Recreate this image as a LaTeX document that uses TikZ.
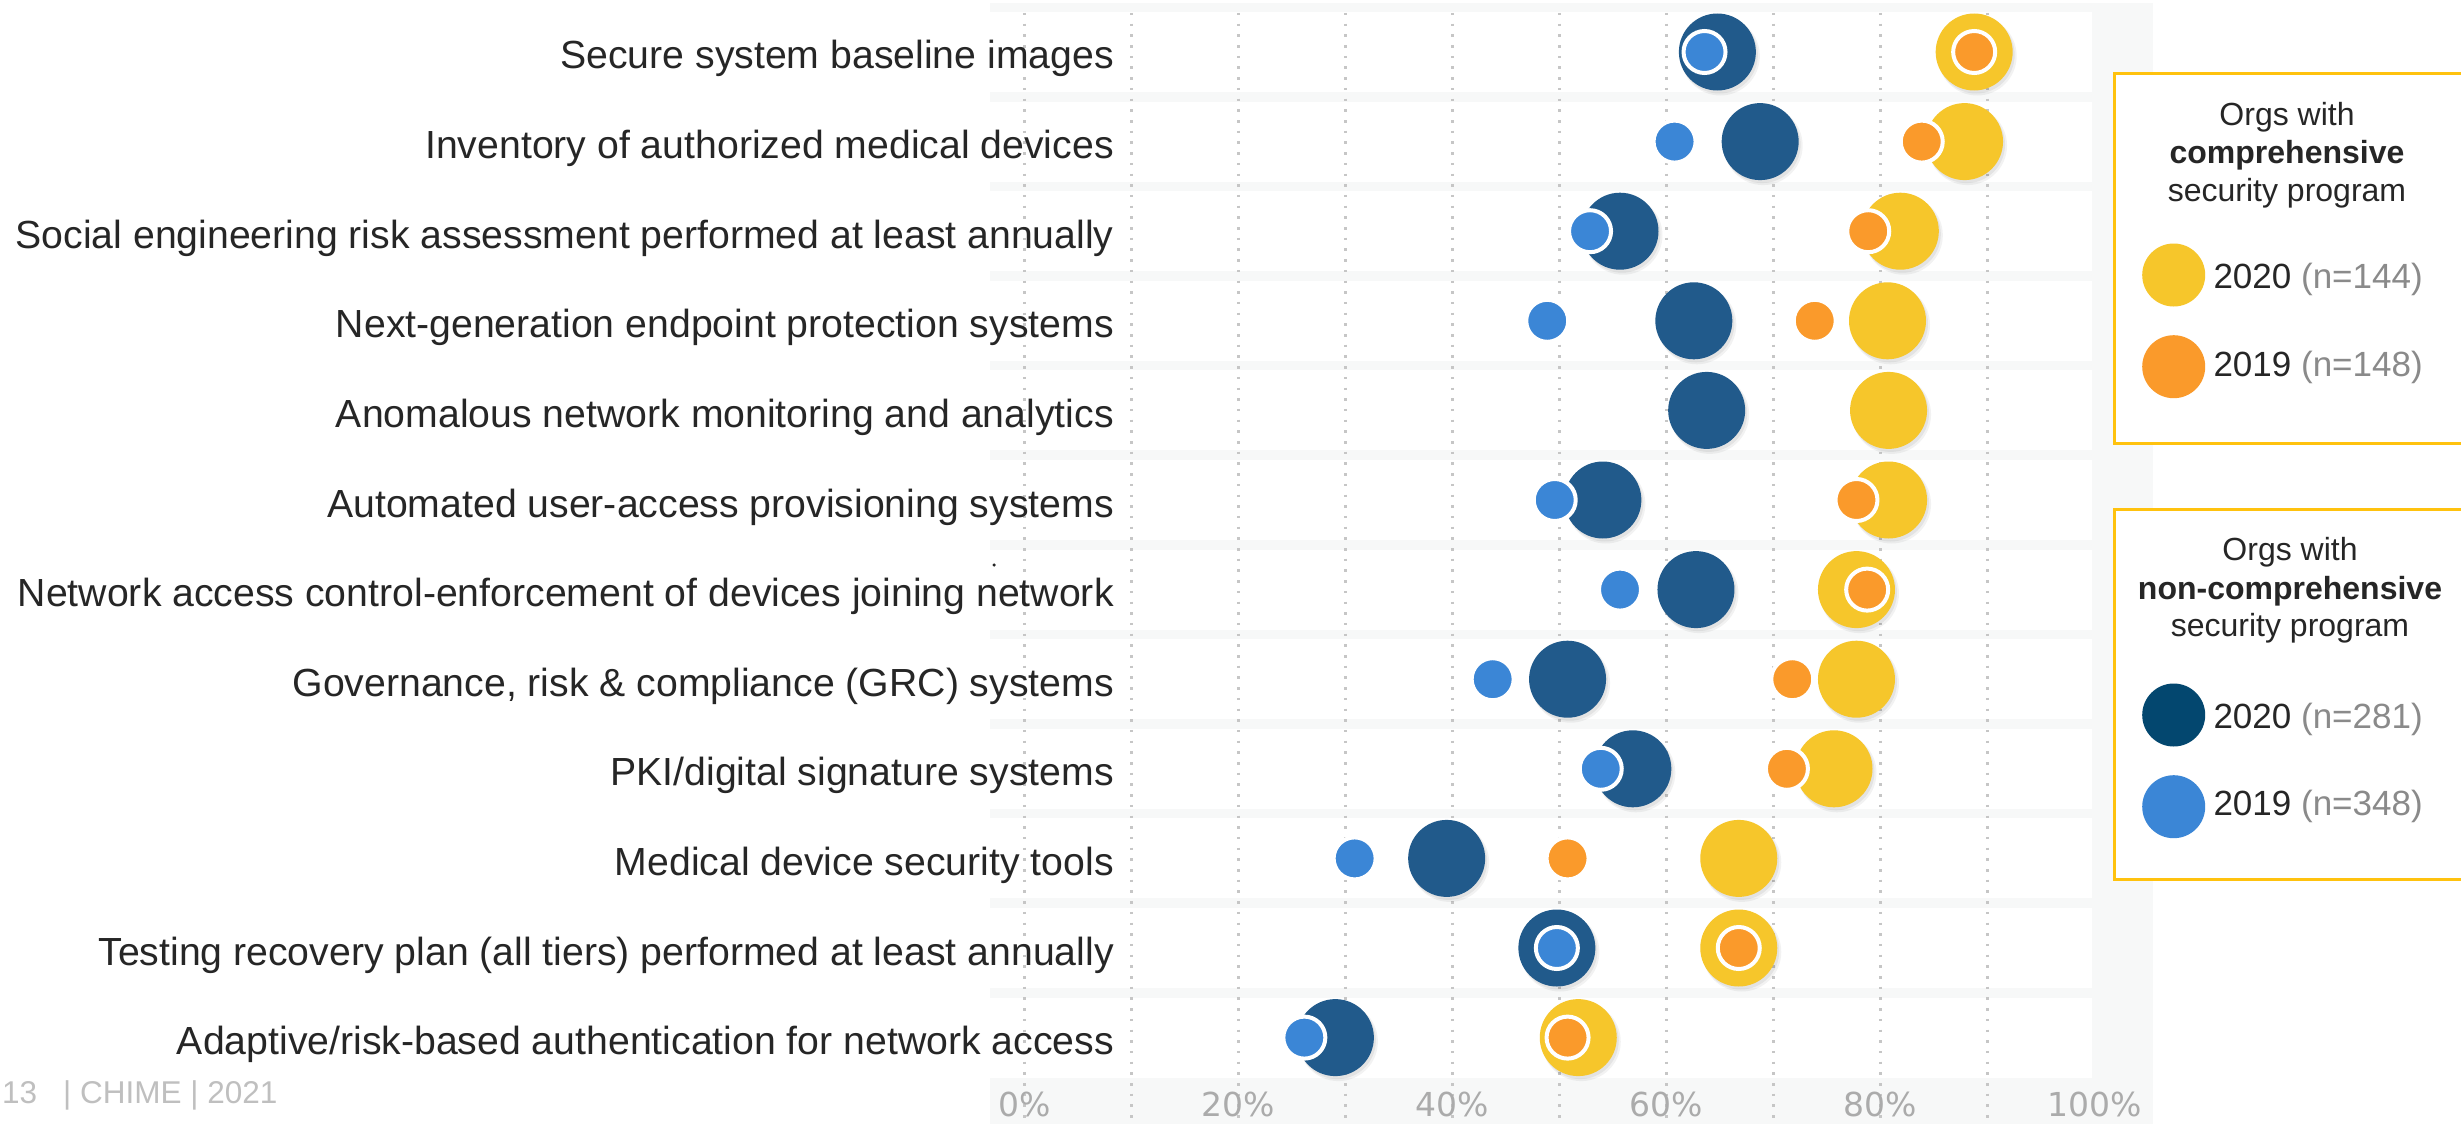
\documentclass[tikz,border=0pt]{standalone}
\usepackage{fontspec}
\setmainfont{Liberation Sans}
\newfontfamily\axisfont{DejaVu Sans}
\definecolor{darkb}{HTML}{215A8B}
\definecolor{legdark}{HTML}{03476F}
\definecolor{lightb}{HTML}{3B86D6}
\definecolor{yell}{HTML}{F6C62B}
\definecolor{orng}{HTML}{FA9A2B}
\definecolor{txt}{HTML}{262626}
\definecolor{ngray}{HTML}{8A8A8A}
\definecolor{plotbg}{HTML}{F7F8F8}
\definecolor{gridc}{HTML}{C6C6C6}
\definecolor{axisc}{HTML}{ABABAB}
\definecolor{footc}{HTML}{BFBFBF}
\definecolor{goldb}{HTML}{FFC20E}
\tikzset{
  bigdot/.style={circle, inner sep=0pt, minimum size=77pt},
  smalldot/.style={circle, inner sep=0pt, minimum size=42pt, draw=white, line width=4pt},
  shadowA/.style={fill=black, opacity=0.05},
  shadowB/.style={fill=black, opacity=0.06},
  legdot/.style={circle, inner sep=0pt, minimum size=63pt},
  rowlabel/.style={anchor=base east, inner sep=0pt, text=txt, font=\fontsize{39.2}{47}\selectfont},
  axislabel/.style={anchor=base, inner sep=0pt, text=axisc, font=\axisfont\fontsize{33}{40}\selectfont},
  legtitle/.style={anchor=base, inner sep=0pt, text=txt, font=\fontsize{32}{38}\selectfont},
  legentry/.style={anchor=base west, inner sep=0pt, text=txt, font=\fontsize{35}{42}\selectfont},
  footer/.style={inner sep=0pt, text=footc, font=\fontsize{31.5}{38}\selectfont},
  gridline/.style={draw=gridc, line width=2.5pt, dash pattern=on 2.5pt off 8.2pt},
  legbox/.style={draw=goldb, line width=3pt, fill=white}
}
\begin{document}
\begin{tikzpicture}[x=1pt,y=-1pt]
\useasboundingbox (0,0) rectangle (2461,1124);
\fill[white] (0,0) rectangle (2461,1124);
% plot background and row bands
\fill[plotbg] (990,3) rectangle (2153,1124);
\foreach \i in {0,...,11} {
  \fill[white] (990,{52+89.6*\i-40}) rectangle (2092,{52+89.6*\i+40});
}
% grid lines
\foreach \k in {0,...,9} {
  \draw[gridline] ({1024.5+107*\k},13) -- ({1024.5+107*\k},1124);
}
% axis labels
\foreach \k/\t in {0/0,2/20,4/40,6/60,8/80,10/100} {
  \node[axislabel] (ax\k) at ({1024.5+107*\k},1116.7) {\t\%};
}
% row labels
\foreach \i/\t in {
  0/{Secure system baseline images},
  1/{Inventory of authorized medical devices},
  2/{Social engineering risk assessment performed at least annually},
  3/{Next-generation endpoint protection systems},
  4/{Anomalous network monitoring and analytics},
  5/{Automated user-access provisioning systems},
  6/{Network access control-enforcement of devices joining network},
  7/{Governance, risk \& compliance (GRC) systems},
  8/{PKI/digital signature systems},
  9/{Medical device security tools},
  10/{Testing recovery plan (all tiers) performed at least annually},
  11/{Adaptive/risk-based authentication for network access}} {
  \node[rowlabel] (lab\i) at (1114,{52+89.6*\i+17}) {\t};
}
\node[circle, fill=txt, inner sep=0pt, minimum size=3.5pt] (stray) at (994,565) {};
% data: row / 2019 non-comp / 2020 non-comp / 2019 comp / 2020 comp
\foreach \i/\b/\d/\o/\y in {
  0/63.6/64.8/88.8/88.8,
  1/60.8/68.8/83.9/87.9,
  2/52.9/55.7/78.9/81.9,
  3/48.9/62.6/73.9/80.7,
  5/49.6/54.1/77.8/80.8,
  6/55.7/62.8/78.8/77.8,
  7/43.8/50.8/71.8/77.8,
  8/53.9/56.9/71.3/75.7,
  9/30.9/39.5/50.8/66.8,
  10/49.8/49.8/66.8/66.8,
  11/26.2/29.1/50.8/51.8} {
  \fill[shadowA] ({1024+10.7*\d+3},{52+89.6*\i+4}) circle (39.5);
  \fill[shadowB] ({1024+10.7*\d+2},{52+89.6*\i+3}) circle (38.5);
  \fill[shadowA] ({1024+10.7*\y+3},{52+89.6*\i+4}) circle (39.5);
  \fill[shadowB] ({1024+10.7*\y+2},{52+89.6*\i+3}) circle (38.5);
  \node[bigdot, fill=darkb] (d\i) at ({1024+10.7*\d},{52+89.6*\i}) {};
  \node[bigdot, fill=yell] (y\i) at ({1024+10.7*\y},{52+89.6*\i}) {};
  \node[smalldot, fill=lightb] (b\i) at ({1024+10.7*\b},{52+89.6*\i}) {};
  \node[smalldot, fill=orng] (o\i) at ({1024+10.7*\o},{52+89.6*\i}) {};
}
% row 4 has only 2020 values
\fill[shadowA] ({1024+10.7*63.8+3},{52+89.6*4+4}) circle (39.5);
\fill[shadowB] ({1024+10.7*63.8+2},{52+89.6*4+3}) circle (38.5);
\fill[shadowA] ({1024+10.7*80.8+3},{52+89.6*4+4}) circle (39.5);
\fill[shadowB] ({1024+10.7*80.8+2},{52+89.6*4+3}) circle (38.5);
\node[bigdot, fill=darkb] (d4) at ({1024+10.7*63.8},{52+89.6*4}) {};
\node[bigdot, fill=yell] (y4) at ({1024+10.7*80.8},{52+89.6*4}) {};
% legend 1
\draw[legbox] (2114,73.3) rectangle (2480,443.3);
\node[legtitle] (t1a) at (2287,125) {Orgs with};
\node[legtitle] (t1b) at (2287,163.3) {\bfseries comprehensive};
\node[legtitle] (t1c) at (2287,201.7) {security program};
\node[legdot, fill=yell] (c1a) at (2173.7,275) {};
\node[legdot, fill=orng] (c1b) at (2173.7,366.7) {};
\node[legentry] (e1a) at (2213.3,288.3) {2020 \textcolor{ngray}{(n=144)}};
\node[legentry] (e1b) at (2213.3,376.7) {2019 \textcolor{ngray}{(n=148)}};
% legend 2
\draw[legbox] (2114,509.3) rectangle (2480,879.3);
\node[legtitle] (t2a) at (2290,560.7) {Orgs with};
\node[legtitle] (t2b) at (2290,599) {\bfseries non-comprehensive};
\node[legtitle] (t2c) at (2290,636.7) {security program};
\node[legdot, fill=legdark] (c2a) at (2173.7,715) {};
\node[legdot, fill=lightb] (c2b) at (2173.7,806.7) {};
\node[legentry] (e2a) at (2213.3,728.3) {2020 \textcolor{ngray}{(n=281)}};
\node[legentry] (e2b) at (2213.3,815) {2019 \textcolor{ngray}{(n=348)}};
% footer
\node[footer, anchor=base west] (pg) at (2,1103) {13};
\node[footer, anchor=base west] (ft) at (63,1103) {| CHIME | 2021};
\end{tikzpicture}
\end{document}
